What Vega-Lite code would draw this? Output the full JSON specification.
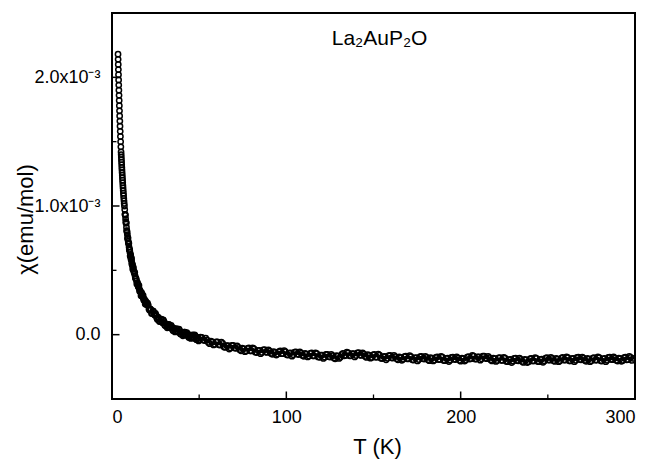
{
  "$schema": "https://vega.github.io/schema/vega-lite/v6.json",
  "width": 523,
  "height": 386,
  "autosize": {"type": "none"},
  "padding": {"left": 112, "top": 13, "right": 17, "bottom": 61},
  "background": "white",
  "config": {
    "view": {"stroke": "black", "strokeWidth": 2},
    "font": "Liberation Sans",
    "axis": {
      "domain": false,
      "grid": false,
      "ticks": false,
      "tickSize": 0,
      "labelFont": "Liberation Sans",
      "labelFontSize": 18,
      "labelColor": "black",
      "titleFont": "Liberation Sans",
      "titleFontSize": 22,
      "titleFontWeight": "normal",
      "titleColor": "black"
    }
  },
  "datasets": {
    "chi": [
      {"T": 3.46, "chi": 2.18e-3}, {"T": 3.52, "chi": 2.14e-3}, {"T": 3.59, "chi": 2.10e-3}, {"T": 3.66, "chi": 2.06e-3},
      {"T": 3.73, "chi": 2.02e-3}, {"T": 3.80, "chi": 1.98e-3}, {"T": 3.88, "chi": 1.94e-3}, {"T": 3.95, "chi": 1.90e-3},
      {"T": 4.04, "chi": 1.86e-3}, {"T": 4.12, "chi": 1.82e-3}, {"T": 4.21, "chi": 1.78e-3}, {"T": 4.30, "chi": 1.74e-3},
      {"T": 4.40, "chi": 1.70e-3}, {"T": 4.50, "chi": 1.66e-3}, {"T": 4.60, "chi": 1.62e-3}, {"T": 4.71, "chi": 1.58e-3},
      {"T": 4.83, "chi": 1.54e-3}, {"T": 4.95, "chi": 1.50e-3}, {"T": 5.07, "chi": 1.46e-3}, {"T": 5.20, "chi": 1.42e-3},
      {"T": 5.27, "chi": 1.40e-3}, {"T": 5.34, "chi": 1.38e-3}, {"T": 5.41, "chi": 1.36e-3}, {"T": 5.49, "chi": 1.34e-3},
      {"T": 5.56, "chi": 1.32e-3}, {"T": 5.64, "chi": 1.30e-3}, {"T": 5.72, "chi": 1.28e-3}, {"T": 5.80, "chi": 1.26e-3},
      {"T": 5.89, "chi": 1.24e-3}, {"T": 5.97, "chi": 1.22e-3}, {"T": 6.06, "chi": 1.20e-3}, {"T": 6.15, "chi": 1.18e-3},
      {"T": 6.25, "chi": 1.16e-3}, {"T": 6.34, "chi": 1.14e-3}, {"T": 6.44, "chi": 1.12e-3}, {"T": 6.55, "chi": 1.10e-3},
      {"T": 6.65, "chi": 1.08e-3}, {"T": 6.76, "chi": 1.06e-3}, {"T": 6.88, "chi": 1.04e-3}, {"T": 6.99, "chi": 1.02e-3},
      {"T": 7.12, "chi": 1.00e-3},
      {"T": 7.30, "chi": 0.972e-3}, {"T": 7.55, "chi": 0.934e-3}, {"T": 7.80, "chi": 0.899e-3}, {"T": 8.05, "chi": 0.866e-3},
      {"T": 8.30, "chi": 0.835e-3}, {"T": 8.55, "chi": 0.806e-3}, {"T": 8.80, "chi": 0.778e-3}, {"T": 9.05, "chi": 0.752e-3},
      {"T": 9.30, "chi": 0.727e-3}, {"T": 9.55, "chi": 0.704e-3}, {"T": 9.80, "chi": 0.681e-3}, {"T": 10.05, "chi": 0.660e-3},
      {"T": 10.30, "chi": 0.640e-3}, {"T": 10.55, "chi": 0.620e-3}, {"T": 10.80, "chi": 0.602e-3}, {"T": 11.05, "chi": 0.584e-3},
      {"T": 11.30, "chi": 0.567e-3}, {"T": 11.55, "chi": 0.551e-3}, {"T": 11.80, "chi": 0.535e-3}, {"T": 12.05, "chi": 0.520e-3},
      {"T": 7.425, "chi": 0.935e-3}, {"T": 7.675, "chi": 0.927e-3}, {"T": 7.925, "chi": 0.877e-3}, {"T": 8.175, "chi": 0.870e-3},
      {"T": 8.425, "chi": 0.809e-3}, {"T": 8.675, "chi": 0.795e-3}, {"T": 8.925, "chi": 0.745e-3}, {"T": 9.175, "chi": 0.753e-3},
      {"T": 9.425, "chi": 0.714e-3}, {"T": 9.675, "chi": 0.710e-3}, {"T": 9.925, "chi": 0.662e-3}, {"T": 10.175, "chi": 0.657e-3},
      {"T": 10.425, "chi": 0.612e-3}, {"T": 10.675, "chi": 0.621e-3}, {"T": 10.925, "chi": 0.587e-3}, {"T": 11.175, "chi": 0.595e-3},
      {"T": 11.425, "chi": 0.547e-3}, {"T": 11.675, "chi": 0.546e-3}, {"T": 11.925, "chi": 0.508e-3}, {"T": 12.25, "chi": 0.522e-3},
      {"T": 12.45, "chi": 0.497e-3}, {"T": 12.85, "chi": 0.476e-3}, {"T": 13.25, "chi": 0.456e-3}, {"T": 13.65, "chi": 0.437e-3},
      {"T": 14.05, "chi": 0.419e-3}, {"T": 14.45, "chi": 0.402e-3}, {"T": 14.85, "chi": 0.386e-3}, {"T": 15.25, "chi": 0.370e-3},
      {"T": 15.65, "chi": 0.356e-3}, {"T": 16.05, "chi": 0.342e-3}, {"T": 16.45, "chi": 0.329e-3}, {"T": 16.85, "chi": 0.317e-3},
      {"T": 17.25, "chi": 0.305e-3}, {"T": 17.65, "chi": 0.293e-3}, {"T": 18.05, "chi": 0.282e-3}, {"T": 18.45, "chi": 0.272e-3},
      {"T": 18.85, "chi": 0.262e-3}, {"T": 19.25, "chi": 0.252e-3}, {"T": 19.65, "chi": 0.243e-3}, {"T": 20.05, "chi": 0.234e-3},
      {"T": 12.65, "chi": 0.485e-3}, {"T": 13.05, "chi": 0.483e-3}, {"T": 13.45, "chi": 0.438e-3}, {"T": 13.85, "chi": 0.435e-3},
      {"T": 14.25, "chi": 0.393e-3}, {"T": 14.65, "chi": 0.404e-3}, {"T": 15.05, "chi": 0.372e-3}, {"T": 15.45, "chi": 0.382e-3},
      {"T": 15.85, "chi": 0.337e-3}, {"T": 16.25, "chi": 0.339e-3}, {"T": 16.65, "chi": 0.303e-3}, {"T": 17.05, "chi": 0.324e-3},
      {"T": 17.45, "chi": 0.297e-3}, {"T": 17.85, "chi": 0.305e-3}, {"T": 18.25, "chi": 0.268e-3}, {"T": 18.65, "chi": 0.274e-3},
      {"T": 19.05, "chi": 0.239e-3}, {"T": 19.45, "chi": 0.258e-3}, {"T": 19.85, "chi": 0.233e-3}, {"T": 20.4, "chi": 0.245e-3},
      {"T": 20.8, "chi": 0.230e-3}, {"T": 21.55, "chi": 0.190e-3}, {"T": 22.3, "chi": 0.195e-3}, {"T": 23.05, "chi": 0.168e-3},
      {"T": 23.8, "chi": 0.180e-3}, {"T": 24.55, "chi": 0.150e-3}, {"T": 25.3, "chi": 0.151e-3}, {"T": 26.05, "chi": 0.117e-3},
      {"T": 26.8, "chi": 0.126e-3}, {"T": 27.55, "chi": 0.104e-3}, {"T": 28.3, "chi": 0.120e-3}, {"T": 29.05, "chi": 0.092e-3},
      {"T": 29.8, "chi": 0.103e-3}, {"T": 30.55, "chi": 0.069e-3}, {"T": 31.3, "chi": 0.081e-3}, {"T": 32.05, "chi": 0.061e-3},
      {"T": 32.8, "chi": 0.078e-3}, {"T": 33.55, "chi": 0.053e-3}, {"T": 34.3, "chi": 0.060e-3}, {"T": 35.05, "chi": 0.030e-3},
      {"T": 35.8, "chi": 0.043e-3}, {"T": 36.55, "chi": 0.025e-3}, {"T": 37.3, "chi": 0.045e-3}, {"T": 38.05, "chi": 0.020e-3},
      {"T": 38.8, "chi": 0.034e-3}, {"T": 39.55, "chi": 0.003e-3}, {"T": 40.3, "chi": 0.018e-3}, {"T": 41.05, "chi": 0.000e-3},
      {"T": 41.8, "chi": 0.020e-3}, {"T": 42.55, "chi": -0.003e-3}, {"T": 43.3, "chi": 0.006e-3}, {"T": 44.05, "chi": -0.022e-3},
      {"T": 44.8, "chi": -0.007e-3}, {"T": 45.55, "chi": -0.024e-3}, {"T": 46.3, "chi": -0.002e-3}, {"T": 47.05, "chi": -0.025e-3},
      {"T": 47.8, "chi": -0.010e-3}, {"T": 48.55, "chi": -0.039e-3}, {"T": 49.3, "chi": -0.022e-3}, {"T": 50.05, "chi": -0.039e-3},
      {"T": 21.175, "chi": 0.199e-3}, {"T": 21.925, "chi": 0.200e-3}, {"T": 22.675, "chi": 0.164e-3}, {"T": 23.425, "chi": 0.184e-3},
      {"T": 24.175, "chi": 0.158e-3}, {"T": 24.925, "chi": 0.166e-3}, {"T": 25.675, "chi": 0.129e-3}, {"T": 26.425, "chi": 0.136e-3},
      {"T": 27.175, "chi": 0.102e-3}, {"T": 27.925, "chi": 0.121e-3}, {"T": 28.675, "chi": 0.096e-3}, {"T": 29.425, "chi": 0.114e-3},
      {"T": 30.175, "chi": 0.075e-3}, {"T": 30.925, "chi": 0.083e-3}, {"T": 31.675, "chi": 0.053e-3}, {"T": 32.425, "chi": 0.080e-3},
      {"T": 33.175, "chi": 0.058e-3}, {"T": 33.925, "chi": 0.072e-3}, {"T": 34.675, "chi": 0.040e-3}, {"T": 35.425, "chi": 0.051e-3},
      {"T": 36.175, "chi": 0.021e-3}, {"T": 36.925, "chi": 0.044e-3}, {"T": 37.675, "chi": 0.023e-3}, {"T": 38.425, "chi": 0.043e-3},
      {"T": 39.175, "chi": 0.008e-3}, {"T": 39.925, "chi": 0.018e-3}, {"T": 40.675, "chi": -0.009e-3}, {"T": 41.425, "chi": 0.020e-3},
      {"T": 42.175, "chi": 0.001e-3}, {"T": 42.925, "chi": 0.016e-3}, {"T": 43.675, "chi": -0.013e-3}, {"T": 44.425, "chi": -0.001e-3},
      {"T": 45.175, "chi": -0.029e-3}, {"T": 45.925, "chi": -0.005e-3}, {"T": 46.675, "chi": -0.024e-3}, {"T": 47.425, "chi": -0.002e-3},
      {"T": 48.175, "chi": -0.036e-3}, {"T": 48.925, "chi": -0.023e-3}, {"T": 49.675, "chi": -0.049e-3}, {"T": 50.775, "chi": -0.020e-3},
      {"T": 51.5, "chi": -0.021e-3}, {"T": 53, "chi": -0.046e-3}, {"T": 54.5, "chi": -0.040e-3}, {"T": 56, "chi": -0.070e-3},
      {"T": 57.5, "chi": -0.057e-3}, {"T": 59, "chi": -0.075e-3}, {"T": 60.5, "chi": -0.056e-3}, {"T": 62, "chi": -0.081e-3},
      {"T": 63.5, "chi": -0.068e-3}, {"T": 65, "chi": -0.099e-3}, {"T": 66.5, "chi": -0.085e-3}, {"T": 68, "chi": -0.103e-3},
      {"T": 69.5, "chi": -0.084e-3}, {"T": 71, "chi": -0.106e-3}, {"T": 72.5, "chi": -0.098e-3}, {"T": 74, "chi": -0.125e-3},
      {"T": 75.5, "chi": -0.110e-3}, {"T": 77, "chi": -0.126e-3}, {"T": 78.5, "chi": -0.103e-3}, {"T": 80, "chi": -0.126e-3},
      {"T": 81.5, "chi": -0.110e-3}, {"T": 83, "chi": -0.139e-3}, {"T": 84.5, "chi": -0.122e-3}, {"T": 86, "chi": -0.138e-3},
      {"T": 87.5, "chi": -0.117e-3}, {"T": 89, "chi": -0.138e-3}, {"T": 90.5, "chi": -0.128e-3}, {"T": 92, "chi": -0.153e-3},
      {"T": 93.5, "chi": -0.137e-3}, {"T": 95, "chi": -0.151e-3}, {"T": 96.5, "chi": -0.127e-3}, {"T": 98, "chi": -0.148e-3},
      {"T": 99.5, "chi": -0.132e-3}, {"T": 101, "chi": -0.159e-3}, {"T": 102.5, "chi": -0.141e-3}, {"T": 104, "chi": -0.156e-3},
      {"T": 105.5, "chi": -0.133e-3}, {"T": 107, "chi": -0.154e-3}, {"T": 108.5, "chi": -0.143e-3}, {"T": 110, "chi": -0.168e-3},
      {"T": 111.5, "chi": -0.152e-3}, {"T": 113, "chi": -0.166e-3}, {"T": 114.5, "chi": -0.142e-3}, {"T": 116, "chi": -0.165e-3},
      {"T": 117.5, "chi": -0.148e-3}, {"T": 119, "chi": -0.176e-3}, {"T": 120.5, "chi": -0.159e-3}, {"T": 122, "chi": -0.175e-3},
      {"T": 123.5, "chi": -0.153e-3}, {"T": 125, "chi": -0.174e-3}, {"T": 126.5, "chi": -0.163e-3}, {"T": 128, "chi": -0.188e-3},
      {"T": 129.5, "chi": -0.167e-3}, {"T": 131, "chi": -0.176e-3}, {"T": 132.5, "chi": -0.146e-3}, {"T": 134, "chi": -0.161e-3},
      {"T": 135.5, "chi": -0.141e-3}, {"T": 137, "chi": -0.164e-3}, {"T": 138.5, "chi": -0.147e-3}, {"T": 140, "chi": -0.162e-3},
      {"T": 141.5, "chi": -0.140e-3}, {"T": 143, "chi": -0.161e-3}, {"T": 144.5, "chi": -0.151e-3}, {"T": 146, "chi": -0.177e-3},
      {"T": 147.5, "chi": -0.162e-3}, {"T": 149, "chi": -0.177e-3}, {"T": 150.5, "chi": -0.154e-3}, {"T": 152, "chi": -0.175e-3},
      {"T": 153.5, "chi": -0.159e-3}, {"T": 155, "chi": -0.186e-3}, {"T": 156.5, "chi": -0.169e-3}, {"T": 158, "chi": -0.184e-3},
      {"T": 159.5, "chi": -0.162e-3}, {"T": 161, "chi": -0.182e-3}, {"T": 162.5, "chi": -0.170e-3}, {"T": 164, "chi": -0.195e-3},
      {"T": 165.5, "chi": -0.178e-3}, {"T": 167, "chi": -0.192e-3}, {"T": 168.5, "chi": -0.167e-3}, {"T": 170, "chi": -0.188e-3},
      {"T": 171.5, "chi": -0.170e-3}, {"T": 173, "chi": -0.197e-3}, {"T": 174.5, "chi": -0.178e-3}, {"T": 176, "chi": -0.193e-3},
      {"T": 177.5, "chi": -0.169e-3}, {"T": 179, "chi": -0.189e-3}, {"T": 180.5, "chi": -0.177e-3}, {"T": 182, "chi": -0.202e-3},
      {"T": 183.5, "chi": -0.184e-3}, {"T": 185, "chi": -0.197e-3}, {"T": 186.5, "chi": -0.173e-3}, {"T": 188, "chi": -0.193e-3},
      {"T": 189.5, "chi": -0.175e-3}, {"T": 191, "chi": -0.202e-3}, {"T": 192.5, "chi": -0.183e-3}, {"T": 194, "chi": -0.198e-3},
      {"T": 195.5, "chi": -0.174e-3}, {"T": 197, "chi": -0.193e-3}, {"T": 198.5, "chi": -0.182e-3}, {"T": 200, "chi": -0.206e-3},
      {"T": 201.5, "chi": -0.186e-3}, {"T": 203, "chi": -0.197e-3}, {"T": 204.5, "chi": -0.170e-3}, {"T": 206, "chi": -0.187e-3},
      {"T": 207.5, "chi": -0.166e-3}, {"T": 209, "chi": -0.189e-3}, {"T": 210.5, "chi": -0.172e-3}, {"T": 212, "chi": -0.188e-3},
      {"T": 213.5, "chi": -0.166e-3}, {"T": 215, "chi": -0.187e-3}, {"T": 216.5, "chi": -0.178e-3}, {"T": 218, "chi": -0.204e-3},
      {"T": 219.5, "chi": -0.187e-3}, {"T": 221, "chi": -0.201e-3}, {"T": 222.5, "chi": -0.178e-3}, {"T": 224, "chi": -0.200e-3},
      {"T": 225.5, "chi": -0.183e-3}, {"T": 227, "chi": -0.210e-3}, {"T": 228.5, "chi": -0.192e-3}, {"T": 230, "chi": -0.206e-3},
      {"T": 231.5, "chi": -0.183e-3}, {"T": 233, "chi": -0.203e-3}, {"T": 234.5, "chi": -0.192e-3}, {"T": 236, "chi": -0.216e-3},
      {"T": 237.5, "chi": -0.197e-3}, {"T": 239, "chi": -0.210e-3}, {"T": 240.5, "chi": -0.184e-3}, {"T": 242, "chi": -0.204e-3},
      {"T": 243.5, "chi": -0.185e-3}, {"T": 245, "chi": -0.210e-3}, {"T": 246.5, "chi": -0.190e-3}, {"T": 248, "chi": -0.204e-3},
      {"T": 249.5, "chi": -0.179e-3}, {"T": 251, "chi": -0.198e-3}, {"T": 252.5, "chi": -0.185e-3}, {"T": 254, "chi": -0.208e-3},
      {"T": 255.5, "chi": -0.190e-3}, {"T": 257, "chi": -0.203e-3}, {"T": 258.5, "chi": -0.177e-3}, {"T": 260, "chi": -0.197e-3},
      {"T": 261.5, "chi": -0.179e-3}, {"T": 263, "chi": -0.204e-3}, {"T": 264.5, "chi": -0.185e-3}, {"T": 266, "chi": -0.199e-3},
      {"T": 267.5, "chi": -0.175e-3}, {"T": 269, "chi": -0.195e-3}, {"T": 270.5, "chi": -0.183e-3}, {"T": 272, "chi": -0.207e-3},
      {"T": 273.5, "chi": -0.190e-3}, {"T": 275, "chi": -0.203e-3}, {"T": 276.5, "chi": -0.178e-3}, {"T": 278, "chi": -0.197e-3},
      {"T": 279.5, "chi": -0.179e-3}, {"T": 281, "chi": -0.205e-3}, {"T": 282.5, "chi": -0.185e-3}, {"T": 284, "chi": -0.199e-3},
      {"T": 285.5, "chi": -0.175e-3}, {"T": 287, "chi": -0.194e-3}, {"T": 288.5, "chi": -0.182e-3}, {"T": 290, "chi": -0.205e-3},
      {"T": 291.5, "chi": -0.187e-3}, {"T": 293, "chi": -0.200e-3}, {"T": 294.5, "chi": -0.175e-3}, {"T": 296, "chi": -0.194e-3},
      {"T": 297.5, "chi": -0.176e-3}, {"T": 299, "chi": -0.185e-3},
      {"T": 52.25, "chi": -0.041e-3}, {"T": 53.75, "chi": -0.028e-3}, {"T": 55.25, "chi": -0.060e-3}, {"T": 56.75, "chi": -0.050e-3},
      {"T": 58.25, "chi": -0.080e-3}, {"T": 59.75, "chi": -0.057e-3}, {"T": 61.25, "chi": -0.079e-3}, {"T": 62.75, "chi": -0.059e-3},
      {"T": 64.25, "chi": -0.095e-3}, {"T": 65.75, "chi": -0.085e-3}, {"T": 67.25, "chi": -0.112e-3}, {"T": 68.75, "chi": -0.084e-3},
      {"T": 70.25, "chi": -0.103e-3}, {"T": 71.75, "chi": -0.087e-3}, {"T": 73.25, "chi": -0.117e-3}, {"T": 74.75, "chi": -0.104e-3},
      {"T": 76.25, "chi": -0.132e-3}, {"T": 77.75, "chi": -0.106e-3}, {"T": 79.25, "chi": -0.125e-3}, {"T": 80.75, "chi": -0.102e-3},
      {"T": 82.25, "chi": -0.136e-3}, {"T": 83.75, "chi": -0.123e-3}, {"T": 85.25, "chi": -0.148e-3}, {"T": 86.75, "chi": -0.118e-3},
      {"T": 88.25, "chi": -0.135e-3}, {"T": 89.75, "chi": -0.118e-3}, {"T": 91.25, "chi": -0.146e-3}, {"T": 92.75, "chi": -0.131e-3},
      {"T": 94.25, "chi": -0.158e-3}, {"T": 95.75, "chi": -0.131e-3}, {"T": 97.25, "chi": -0.148e-3}, {"T": 98.75, "chi": -0.124e-3},
      {"T": 100.25, "chi": -0.157e-3}, {"T": 101.75, "chi": -0.143e-3}, {"T": 103.25, "chi": -0.167e-3}, {"T": 104.75, "chi": -0.135e-3},
      {"T": 106.25, "chi": -0.151e-3}, {"T": 107.75, "chi": -0.134e-3}, {"T": 109.25, "chi": -0.161e-3}, {"T": 110.75, "chi": -0.146e-3},
      {"T": 112.25, "chi": -0.173e-3}, {"T": 113.75, "chi": -0.146e-3}, {"T": 115.25, "chi": -0.164e-3}, {"T": 116.75, "chi": -0.141e-3},
      {"T": 118.25, "chi": -0.173e-3}, {"T": 119.75, "chi": -0.160e-3}, {"T": 121.25, "chi": -0.185e-3}, {"T": 122.75, "chi": -0.154e-3},
      {"T": 124.25, "chi": -0.171e-3}, {"T": 125.75, "chi": -0.154e-3}, {"T": 127.25, "chi": -0.181e-3}, {"T": 128.75, "chi": -0.164e-3},
      {"T": 130.25, "chi": -0.185e-3}, {"T": 131.75, "chi": -0.153e-3}, {"T": 133.25, "chi": -0.164e-3}, {"T": 134.75, "chi": -0.135e-3},
      {"T": 136.25, "chi": -0.164e-3}, {"T": 137.75, "chi": -0.148e-3}, {"T": 139.25, "chi": -0.173e-3}, {"T": 140.75, "chi": -0.141e-3},
      {"T": 142.25, "chi": -0.158e-3}, {"T": 143.75, "chi": -0.141e-3}, {"T": 145.25, "chi": -0.169e-3}, {"T": 146.75, "chi": -0.156e-3},
      {"T": 148.25, "chi": -0.183e-3}, {"T": 149.75, "chi": -0.157e-3}, {"T": 151.25, "chi": -0.175e-3}, {"T": 152.75, "chi": -0.151e-3},
      {"T": 154.25, "chi": -0.184e-3}, {"T": 155.75, "chi": -0.170e-3}, {"T": 157.25, "chi": -0.195e-3}, {"T": 158.75, "chi": -0.163e-3},
      {"T": 160.25, "chi": -0.180e-3}, {"T": 161.75, "chi": -0.161e-3}, {"T": 163.25, "chi": -0.188e-3}, {"T": 164.75, "chi": -0.173e-3},
      {"T": 166.25, "chi": -0.199e-3}, {"T": 167.75, "chi": -0.171e-3}, {"T": 169.25, "chi": -0.188e-3}, {"T": 170.75, "chi": -0.163e-3},
      {"T": 172.25, "chi": -0.195e-3}, {"T": 173.75, "chi": -0.180e-3}, {"T": 175.25, "chi": -0.204e-3}, {"T": 176.75, "chi": -0.171e-3},
      {"T": 178.25, "chi": -0.187e-3}, {"T": 179.75, "chi": -0.168e-3}, {"T": 181.25, "chi": -0.195e-3}, {"T": 182.75, "chi": -0.179e-3},
      {"T": 184.25, "chi": -0.204e-3}, {"T": 185.75, "chi": -0.177e-3}, {"T": 187.25, "chi": -0.193e-3}, {"T": 188.75, "chi": -0.168e-3},
      {"T": 190.25, "chi": -0.200e-3}, {"T": 191.75, "chi": -0.185e-3}, {"T": 193.25, "chi": -0.209e-3}, {"T": 194.75, "chi": -0.176e-3},
      {"T": 196.25, "chi": -0.191e-3}, {"T": 197.75, "chi": -0.173e-3}, {"T": 199.25, "chi": -0.199e-3}, {"T": 200.75, "chi": -0.182e-3},
      {"T": 202.25, "chi": -0.205e-3}, {"T": 203.75, "chi": -0.175e-3}, {"T": 205.25, "chi": -0.189e-3}, {"T": 206.75, "chi": -0.161e-3},
      {"T": 208.25, "chi": -0.189e-3}, {"T": 209.75, "chi": -0.173e-3}, {"T": 211.25, "chi": -0.198e-3}, {"T": 212.75, "chi": -0.167e-3},
      {"T": 214.25, "chi": -0.184e-3}, {"T": 215.75, "chi": -0.168e-3}, {"T": 217.25, "chi": -0.196e-3}, {"T": 218.75, "chi": -0.182e-3},
      {"T": 220.25, "chi": -0.208e-3}, {"T": 221.75, "chi": -0.181e-3}, {"T": 223.25, "chi": -0.199e-3}, {"T": 224.75, "chi": -0.176e-3},
      {"T": 226.25, "chi": -0.208e-3}, {"T": 227.75, "chi": -0.194e-3}, {"T": 229.25, "chi": -0.217e-3}, {"T": 230.75, "chi": -0.185e-3},
      {"T": 232.25, "chi": -0.201e-3}, {"T": 233.75, "chi": -0.183e-3}, {"T": 235.25, "chi": -0.209e-3}, {"T": 236.75, "chi": -0.193e-3},
      {"T": 238.25, "chi": -0.217e-3}, {"T": 239.75, "chi": -0.189e-3}, {"T": 241.25, "chi": -0.204e-3}, {"T": 242.75, "chi": -0.179e-3},
      {"T": 244.25, "chi": -0.209e-3}, {"T": 245.75, "chi": -0.193e-3}, {"T": 247.25, "chi": -0.215e-3}, {"T": 248.75, "chi": -0.182e-3},
      {"T": 250.25, "chi": -0.196e-3}, {"T": 251.75, "chi": -0.177e-3}, {"T": 253.25, "chi": -0.202e-3}, {"T": 254.75, "chi": -0.185e-3},
      {"T": 256.25, "chi": -0.210e-3}, {"T": 257.75, "chi": -0.182e-3}, {"T": 259.25, "chi": -0.197e-3}, {"T": 260.75, "chi": -0.172e-3},
      {"T": 262.25, "chi": -0.203e-3}, {"T": 263.75, "chi": -0.187e-3}, {"T": 265.25, "chi": -0.210e-3}, {"T": 266.75, "chi": -0.177e-3},
      {"T": 268.25, "chi": -0.193e-3}, {"T": 269.75, "chi": -0.174e-3}, {"T": 271.25, "chi": -0.200e-3}, {"T": 272.75, "chi": -0.185e-3},
      {"T": 274.25, "chi": -0.210e-3}, {"T": 275.75, "chi": -0.182e-3}, {"T": 277.25, "chi": -0.198e-3}, {"T": 278.75, "chi": -0.172e-3},
      {"T": 280.25, "chi": -0.203e-3}, {"T": 281.75, "chi": -0.188e-3}, {"T": 283.25, "chi": -0.210e-3}, {"T": 284.75, "chi": -0.177e-3},
      {"T": 286.25, "chi": -0.192e-3}, {"T": 287.75, "chi": -0.173e-3}, {"T": 289.25, "chi": -0.199e-3}, {"T": 290.75, "chi": -0.182e-3},
      {"T": 292.25, "chi": -0.207e-3}, {"T": 293.75, "chi": -0.179e-3}, {"T": 295.25, "chi": -0.195e-3}, {"T": 296.75, "chi": -0.169e-3},
      {"T": 298.25, "chi": -0.200e-3}
    ],
    "xticks": [{"T": 100, "kind": "major"}, {"T": 200, "kind": "major"}, {"T": 50, "kind": "minor"}, {"T": 150, "kind": "minor"}, {"T": 250, "kind": "minor"}],
    "yticks": [{"chi": 0, "kind": "major"}, {"chi": 0.001, "kind": "major"}, {"chi": 0.002, "kind": "major"}, {"chi": 0.0005, "kind": "minor"}, {"chi": 0.0015, "kind": "minor"}]
  },
  "layer": [
    {
      "data": {"name": "chi"},
      "mark": {"type": "point", "shape": "circle", "filled": false, "stroke": "black", "strokeWidth": 1.5, "size": 28, "opacity": 1, "clip": true},
      "encoding": {
        "x": {
          "field": "T", "type": "quantitative",
          "scale": {"domain": [0, 300], "nice": false, "zero": false},
          "axis": {
            "title": "T (K)",
            "values": [0, 100, 200, 300],
            "format": "d",
            "labelPadding": 9,
            "labelBaseline": "top",
            "titleBaseline": "alphabetic",
            "titleX": 265,
            "titleY": 54
          }
        },
        "y": {
          "field": "chi", "type": "quantitative",
          "scale": {"domain": [-0.0005, 0.0025], "nice": false, "zero": false},
          "axis": {
            "title": "χ(emu/mol)",
            "values": [0, 0.001, 0.002],
            "labelExpr": "datum.value == 0 ? '0.0' : format(datum.value * 1000, '.1f') + 'x10⁻³'",
            "labelPadding": 12,
            "titleBaseline": "alphabetic",
            "titleX": -80,
            "titleY": 206
          }
        }
      }
    },
    {
      "data": {"name": "xticks"},
      "transform": [{"filter": "datum.kind == 'major'"}],
      "mark": {"type": "tick", "orient": "vertical", "size": 15, "thickness": 1.5, "color": "black", "opacity": 1, "clip": true},
      "encoding": {
        "x": {"field": "T", "type": "quantitative"},
        "y": {"datum": -0.0005}
      }
    },
    {
      "data": {"name": "xticks"},
      "transform": [{"filter": "datum.kind == 'minor'"}],
      "mark": {"type": "tick", "orient": "vertical", "size": 9, "thickness": 1.3, "color": "black", "opacity": 1, "clip": true},
      "encoding": {
        "x": {"field": "T", "type": "quantitative"},
        "y": {"datum": -0.0005}
      }
    },
    {
      "data": {"name": "yticks"},
      "transform": [{"filter": "datum.kind == 'major'"}],
      "mark": {"type": "tick", "orient": "horizontal", "size": 15, "thickness": 1.5, "color": "black", "opacity": 1, "clip": true},
      "encoding": {
        "y": {"field": "chi", "type": "quantitative"},
        "x": {"datum": 0}
      }
    },
    {
      "data": {"name": "yticks"},
      "transform": [{"filter": "datum.kind == 'minor'"}],
      "mark": {"type": "tick", "orient": "horizontal", "size": 9, "thickness": 1.3, "color": "black", "opacity": 1, "clip": true},
      "encoding": {
        "y": {"field": "chi", "type": "quantitative"},
        "x": {"datum": 0}
      }
    },
    {
      "data": {"values": [{"T": 153.5, "chi": 0.002252, "label": "La₂AuP₂O"}]},
      "mark": {"type": "text", "font": "Liberation Sans", "fontSize": 21, "color": "black", "align": "center", "baseline": "alphabetic"},
      "encoding": {
        "x": {"field": "T", "type": "quantitative"},
        "y": {"field": "chi", "type": "quantitative"},
        "text": {"field": "label"}
      }
    }
  ]
}
